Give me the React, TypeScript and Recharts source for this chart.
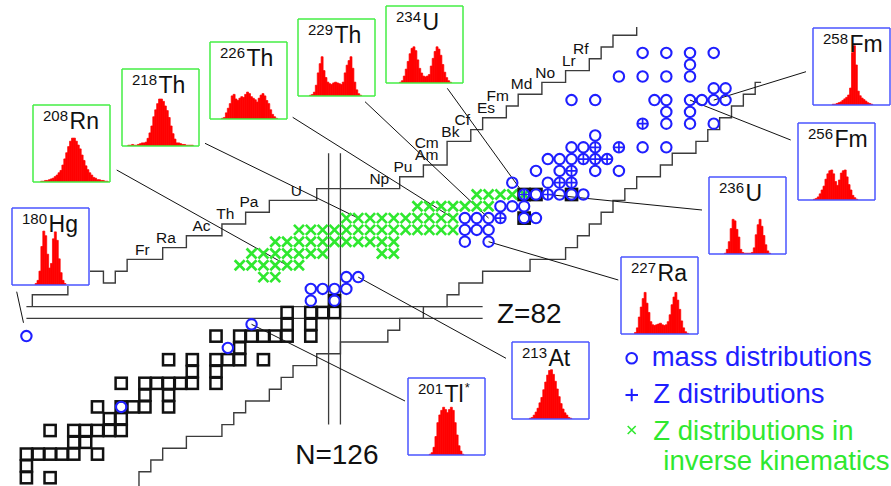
import React from "react";
import { ComposedChart, Scatter, XAxis, YAxis, BarChart, Bar, Legend } from "recharts";

const W = 891;
const H = 486;

// N along x, Z along y; one nuclide is about 11.85 x 11.8 px
const N_RANGE: [number, number] = [97.772, 172.96];
const Z_RANGE: [number, number] = [67.297, 108.483];

const pxToN = (x: number) => N_RANGE[0] + (x / W) * (N_RANGE[1] - N_RANGE[0]);
const pxToZ = (y: number) => Z_RANGE[1] - (y / H) * (Z_RANGE[1] - Z_RANGE[0]);

const BLUE = "#1f1fff";
const GREEN = "#2fe82f";
const RED = "#ff0000";
const INK = "#3c3c3c";
const FRAME_BLUE = "#4a55ff";
const FRAME_GREEN = "#44ee44";
const FONT = "'Liberation Sans', Arial, sans-serif";

// [Z, N list]
const stableRows: [number, number[]][] = [
  [68, [100, 102]],
  [69, [100]],
  [70, [100, 101, 102, 103, 104, 106]],
  [71, [104, 105]],
  [72, [102, 104, 105, 106, 107, 108]],
  [73, [107, 108]],
  [74, [106, 108, 109, 110, 112]],
  [75, [110, 112]],
  [76, [108, 110, 111, 112, 113, 114, 116]],
  [77, [114, 116]],
  [78, [112, 114, 116, 117, 118, 120]],
  [79, [118]],
  [80, [116, 118, 119, 120, 121, 122, 124]],
  [81, [122, 124]],
  [82, [122, 124, 125, 126]],
  [83, [126]],
  [90, [142]],
  [92, [142, 143, 146]],
];

const massRows: [number, number[]][] = [
  [74, [108]],
  [79, [117]],
  [80, [100]],
  [81, [119]],
  [83, [124, 126]],
  [84, [124, 125, 126, 127]],
  [85, [127, 128]],
  [88, [137, 139]],
  [89, [137, 138, 139]],
  [90, [137, 138, 139, 140, 142, 143]],
  [91, [140, 141, 142]],
  [92, [142, 143, 144, 145, 146, 147]],
  [93, [141, 144, 145, 146]],
  [94, [143, 145, 146, 148, 150]],
  [95, [144, 145, 146, 147, 148, 149]],
  [96, [146, 147, 148, 150, 152, 154]],
  [97, [148]],
  [98, [152, 154, 156, 158]],
  [99, [154, 156]],
  [100, [146, 148, 153, 154, 156, 157, 158, 159]],
  [101, [158, 159]],
  [102, [150, 152, 154, 156]],
  [103, [156]],
  [104, [152, 154, 156, 158]],
];

const zRows: [number, number[]][] = [
  [90, [140]],
  [92, [142, 144]],
  [93, [145, 146]],
  [94, [146]],
  [95, [147, 148, 149]],
  [96, [148, 150]],
  [98, [152]],
];

const inverseRows: [number, number[]][] = [
  [85, [120, 121]],
  [86, [118, 119, 120, 121, 122, 123]],
  [87, [119, 120, 121, 122, 123, 124, 125, 130, 131]],
  [88, [121, 122, 123, 124, 125, 126, 127, 128, 129, 130, 131]],
  [89, [123, 124, 125, 126, 127, 128, 129, 130, 131, 132, 133, 134, 135, 136]],
  [90, [127, 128, 129, 130, 131, 132, 133, 134, 135, 136]],
  [91, [133, 134, 135, 136, 137, 138, 139]],
  [92, [138, 139, 140, 141, 142]],
];

// limits of known nuclei, corner points [N, Z]
const protonSide: [number, number][] = [
  [100.5, 82.5], [100.5, 83.5], [103.5, 83.5], [103.5, 84.5], [104.5, 84.5], [104.5, 85.5],
  [106.5, 85.5], [106.5, 84.5], [107.5, 84.5], [107.5, 85.5], [108.5, 85.5], [108.5, 86.5],
  [111.5, 86.5], [111.5, 87.5], [113.5, 87.5], [113.5, 88.5], [116.5, 88.5], [116.5, 89.5],
  [118.5, 89.5], [118.5, 90.5], [120.5, 90.5], [120.5, 91.5], [124.5, 91.5], [124.5, 92.5],
  [131.5, 92.5], [131.5, 93.5], [133.5, 93.5], [133.5, 94.5], [135.5, 94.5], [135.5, 96.5],
  [137.5, 96.5], [137.5, 97.5], [138.5, 97.5], [138.5, 98.5], [140.5, 98.5], [140.5, 99.5],
  [141.5, 99.5], [141.5, 100.5], [143.5, 100.5], [143.5, 101.5], [145.5, 101.5], [145.5, 102.5],
  [147.5, 102.5], [147.5, 103.5], [148.5, 103.5], [148.5, 104.5], [149.5, 104.5], [149.5, 105.5],
  [151.5, 105.5], [151.5, 106.2],
];

const neutronSide: [number, number][] = [
  [109.5, 67.2], [109.5, 68.5], [110.5, 68.5], [110.5, 69.5], [111.5, 69.5], [111.5, 70.5],
  [113.5, 70.5], [113.5, 71.5], [116.5, 71.5], [116.5, 72.5], [117.5, 72.5], [117.5, 73.5],
  [118.5, 73.5], [118.5, 74.5], [120.5, 74.5], [120.5, 75.5], [121.5, 75.5], [121.5, 76.5],
  [122.5, 76.5], [122.5, 77.5], [124.5, 77.5], [124.5, 78.5], [126.5, 78.5], [126.5, 79.5],
  [130.5, 79.5], [130.5, 80.5], [131.5, 80.5], [131.5, 81.5], [133.5, 81.5], [133.5, 82.5],
  [135.5, 82.5], [135.5, 83.5], [136.5, 83.5], [136.5, 84.5], [138.5, 84.5], [138.5, 85.5],
  [142.5, 85.5], [142.5, 86.5], [145.5, 86.5], [145.5, 87.5], [146.5, 87.5], [146.5, 88.5],
  [147.5, 88.5], [147.5, 89.5], [148.5, 89.5], [148.5, 90.5], [149.5, 90.5], [149.5, 91.5],
  [150.5, 91.5], [150.5, 92.5], [151.5, 92.5], [151.5, 93.5], [153.5, 93.5], [153.5, 94.5],
  [154.5, 94.5], [154.5, 95.5], [156.5, 95.5], [156.5, 96.5], [157.5, 96.5], [157.5, 97.5],
  [158.5, 97.5], [158.5, 98.5], [159.5, 98.5], [159.5, 99.5], [160.5, 99.5], [160.5, 100.5],
  [161.5, 100.5], [161.5, 101.5], [162, 101.5],
];

const shellLines: [number, number][][] = [
  [[100, 82.5], [138.5, 82.5]],
  [[100, 81.5], [138.5, 81.5]],
  [[125.5, 72.5], [125.5, 95.5]],
  [[126.5, 72.5], [126.5, 95.5]],
];

const elementSymbols = ["Fr", "Ra", "Ac", "Th", "Pa", "U", "Np", "Pu", "Am", "Cm", "Bk", "Cf", "Es", "Fm", "Md", "No", "Lr", "Rf"];
const elementZ = [87, 88, 89, 90, 91, 92, 93, 94, 95, 96, 97, 98, 99, 100, 101, 102, 103, 104];

// fission-fragment distributions (relative yield per bin, 40 bins)
const hg180 = [0,0,0,0,0,0,0,0,0,0,0,0,2,6,18,50,70,64,40,22,28,60,69,58,34,16,6,2,0,0,0,0,0,0,0,0,0,0,0,0];
const rn208 = [0,0,0,0,1,1,2,2,3,4,5,7,9,12,15,22,30,38,46,53,57,57,53,48,43,35,28,21,16,12,9,6,5,3,3,2,2,1,1,0];
const th218 = [0,0,0,1,1,2,1,1,2,3,4,4,5,10,17,26,38,47,55,61,61,58,52,46,37,26,16,9,4,4,3,2,2,1,1,1,1,0,0,0];
const th226 = [0,0,0,0,0,0,1,2,8,14,20,30,32,26,24,27,29,28,32,35,33,29,27,25,22,27,31,33,30,24,20,12,6,3,1,0,0,0,0,0];
const th229 = [0,0,0,0,0,0,1,2,5,14,30,42,51,33,24,18,16,15,17,18,17,16,15,18,30,40,46,51,36,18,8,3,1,0,0,0,0,0,0,0];
const u234 = [0,0,0,0,0,0,0,1,3,9,18,28,38,45,47,42,30,19,13,9,8,9,11,22,32,41,47,44,36,24,14,7,3,1,0,0,0,0,0,0];
const fm258 = [0,0,0,0,0,0,0,0,0,0,1,1,2,3,4,6,8,10,13,22,68,77,52,18,12,9,7,5,3,2,1,0,0,0,0,0,0,0,0,0];
const fm256 = [0,0,0,0,0,0,0,0,1,2,4,8,13,18,27,34,38,39,34,24,19,26,35,38,39,30,20,13,6,3,1,0,0,0,0,0,0,0,0,0];
const u236 = [0,0,0,0,0,0,0,0,1,6,16,33,45,43,32,22,6,2,1,1,1,1,2,8,25,38,45,36,24,12,4,1,0,0,0,0,0,0,0,0];
const ra227 = [0,0,0,0,0,0,0,2,8,22,35,46,54,40,28,16,12,11,12,13,14,12,11,12,16,25,38,48,54,44,32,17,8,3,1,0,0,0,0,0];
const at213 = [0,0,0,0,0,0,0,0,0,1,2,5,9,14,21,28,38,48,57,63,64,58,49,39,29,20,13,8,5,2,1,0,0,0,0,0,0,0,0,0];
const tl201 = [0,0,0,0,0,0,0,0,0,0,0,1,3,10,24,42,52,58,62,59,55,59,62,58,42,26,12,5,1,0,0,0,0,0,0,0,0,0,0,0];

type InsetSpec = {
  mass: string; sym: string; star?: boolean; inverse: boolean;
  yields: number[]; n: number; z: number; reach?: number;
};

const insets: InsetSpec[] = [
  { mass: "180", sym: "Hg", inverse: false, yields: hg180, n: 100, z: 80, reach: 0.7 },
  { mass: "208", sym: "Rn", inverse: true, yields: rn208, n: 122, z: 86 },
  { mass: "218", sym: "Th", inverse: true, yields: th218, n: 128, z: 90 },
  { mass: "226", sym: "Th", inverse: true, yields: th226, n: 136, z: 90 },
  { mass: "229", sym: "Th", inverse: true, yields: th229, n: 139, z: 90 },
  { mass: "234", sym: "U", inverse: true, yields: u234, n: 142, z: 92 },
  { mass: "258", sym: "Fm", inverse: false, yields: fm258, n: 158, z: 100 },
  { mass: "256", sym: "Fm", inverse: false, yields: fm256, n: 156, z: 100 },
  { mass: "236", sym: "U", inverse: false, yields: u236, n: 144, z: 92 },
  { mass: "227", sym: "Ra", inverse: false, yields: ra227, n: 139, z: 88 },
  { mass: "213", sym: "At", inverse: false, yields: at213, n: 128, z: 85 },
  { mass: "201", sym: "Tl", star: true, inverse: false, yields: tl201, n: 119, z: 81 },
];

// inset boxes (top-left, px) and where their pointer starts
const insetLayout = [
  { x: 11.7, y: 207.7, ax: 16.7, ay: 291.7 },
  { x: 33.3, y: 105, ax: 116.7, ay: 170 },
  { x: 121.7, y: 69.3, ax: 205, ay: 143.3 },
  { x: 210, y: 42.3, ax: 292.7, ay: 117.3 },
  { x: 298.3, y: 19.3, ax: 365, ay: 101.7 },
  { x: 386, y: 6, ax: 447.3, ay: 88.3 },
  { x: 812.7, y: 28.3, ax: 806, ay: 71.7 },
  { x: 797.7, y: 122.7, ax: 790.7, ay: 140 },
  { x: 709.3, y: 176.7, ax: 702, ay: 210 },
  { x: 621, y: 257.3, ax: 618.3, ay: 280 },
  { x: 511.7, y: 342.3, ax: 506, ay: 358.3 },
  { x: 408.3, y: 377.7, ax: 405, ay: 401 },
];

const toPts = (rows: [number, number[]][]) => rows.flatMap(([z, ns]) => ns.map((n) => ({ n, z })));
const cornerPts = (c: [number, number][]) => c.map(([n, z]) => ({ n, z }));

// element name sits just left of the step where that Z row starts
const elementLabels = elementZ.map((z, i) => {
  let edge = 0;
  for (let k = 1; k < protonSide.length; k++) {
    const a = protonSide[k - 1];
    const b = protonSide[k];
    if (a[0] === b[0] && Math.min(a[1], b[1]) < z && Math.max(a[1], b[1]) > z) edge = a[0];
  }
  return { n: edge - 1.72, z: z + 0.38, sym: elementSymbols[i] };
});

const leaders = insets.map((s, i) => {
  const l = insetLayout[i];
  const n0 = pxToN(l.ax);
  const z0 = pxToZ(l.ay);
  const r = s.reach ?? 1;
  return [{ n: n0, z: z0 }, { n: n0 + (s.n - n0) * r, z: z0 + (s.z - z0) * r }];
});

const noDot = () => <g />;

const SquareMark = (p: any) => (
  <rect x={p.cx - 5.6} y={p.cy - 5.6} width={11.2} height={11.2} fill="none" stroke="#111" strokeWidth={2.5} />
);
const RingMark = (p: any) => <circle cx={p.cx} cy={p.cy} r={5.2} fill="none" stroke={BLUE} strokeWidth={2.1} />;
const PlusMark = (p: any) => (
  <path d={`M${p.cx - 4.8},${p.cy}H${p.cx + 4.8}M${p.cx},${p.cy - 4.8}V${p.cy + 4.8}`} stroke={BLUE} strokeWidth={1.7} />
);
const CrossMark = (p: any) => (
  <path
    d={`M${p.cx - 5},${p.cy - 5}L${p.cx + 5},${p.cy + 5}M${p.cx + 5},${p.cy - 5}L${p.cx - 5},${p.cy + 5}`}
    stroke={GREEN}
    strokeWidth={2.7}
  />
);
const ElementText = (p: any) => (
  <text x={p.cx} y={p.cy + 5.6} textAnchor="middle" fontSize={15.5} fontFamily={FONT} fill="#111">
    {p.payload.sym}
  </text>
);
const BigText = (p: any) => (
  <text x={p.cx} y={p.cy + 10} textAnchor={p.payload.anchor} fontSize={28} fontFamily={FONT} fill="#111">
    {p.payload.t}
  </text>
);

const magicLabels = [
  { n: pxToN(497), z: 82, t: "Z=82", anchor: "start" },
  { n: 126.2, z: 70, t: "N=126", anchor: "middle" },
];

function LegendBox() {
  return (
    <svg width={270} height={140} style={{ display: "block" }}>
      <circle cx={11.7} cy={18.3} r={5.3} fill="none" stroke={BLUE} strokeWidth={2} />
      <text x={31.7} y={26} fill={BLUE} fontSize={27.5} fontFamily={FONT}>mass distributions</text>
      <path d="M5.5,55H18M11.7,48.8V61.2" stroke={BLUE} strokeWidth={2} />
      <text x={33.3} y={63} fill={BLUE} fontSize={27.5} fontFamily={FONT}>Z distributions</text>
      <path d="M7.7,86L15.7,94M15.7,86L7.7,94" stroke={GREEN} strokeWidth={1.6} />
      <text x={33.3} y={100} fill={GREEN} fontSize={27.5} fontFamily={FONT}>Z distributions in</text>
      <text x={43.3} y={130} fill={GREEN} fontSize={27.5} fontFamily={FONT}>inverse kinematics</text>
    </svg>
  );
}

const GREEN_TICKS = [13, 28, 43, 58, 73, 88];
const BLUE_TICKS = [18, 37, 56, 75, 94];

function Inset({ spec, box }: { spec: InsetSpec; box: { x: number; y: number } }) {
  const data = spec.yields.map((v, i) => ({ i, v }));
  const color = spec.inverse ? FRAME_GREEN : FRAME_BLUE;
  const ticks = spec.inverse ? GREEN_TICKS : BLUE_TICKS;
  const frame = {
    type: "number" as const,
    domain: [0, 100],
    ticks,
    interval: 0 as const,
    mirror: true,
    tick: false,
    tickSize: 3,
    allowDataOverflow: true,
    axisLine: { stroke: color, strokeWidth: 1.5 },
    tickLine: { stroke: color, strokeWidth: 1.2 },
  };
  return (
    <div style={{ position: "absolute", left: box.x - 1, top: box.y - 1, width: 79, height: 79, background: "#fff" }}>
      <BarChart width={79} height={79} data={data} margin={{ top: 1, right: 1, bottom: 1, left: 1 }} barCategoryGap={0} barGap={0}>
        <XAxis xAxisId="bins" dataKey="i" hide />
        <YAxis yAxisId="l" orientation="left" {...frame} />
        <YAxis yAxisId="r" orientation="right" {...frame} />
        <Bar xAxisId="bins" yAxisId="l" dataKey="v" fill={RED} stroke={RED} strokeWidth={0.7} isAnimationActive={false} />
        <XAxis xAxisId="b" orientation="bottom" {...frame} />
        <XAxis xAxisId="t" orientation="top" {...frame} />
      </BarChart>
      <svg width={79} height={79} style={{ position: "absolute", left: 0, top: 0 }}>
        <text x={11} y={16.5} fontSize={15} fontFamily={FONT} fill="#111">
          {spec.mass}
          <tspan dx={1.5} dy={8.5} fontSize={23}>{spec.sym}</tspan>
          {spec.star ? <tspan dx={1} dy={-10} fontSize={13}>*</tspan> : null}
        </text>
      </svg>
    </div>
  );
}

export default function App() {
  return (
    <div style={{ position: "absolute", left: 0, top: 0, width: W, height: H, background: "#fff" }}>
      <ComposedChart width={W} height={H} margin={{ top: 0, right: 0, bottom: 0, left: 0 }}>
        <XAxis type="number" dataKey="n" domain={N_RANGE} hide allowDataOverflow />
        <YAxis type="number" dataKey="z" domain={Z_RANGE} hide allowDataOverflow />

        {shellLines.map((seg, i) => (
          <Scatter key={`shell${i}`} data={cornerPts(seg)} line={{ stroke: INK, strokeWidth: 1.3 }} lineType="joint" shape={noDot} isAnimationActive={false} />
        ))}
        <Scatter data={cornerPts(protonSide)} line={{ stroke: INK, strokeWidth: 1.4 }} lineType="joint" shape={noDot} isAnimationActive={false} />
        <Scatter data={cornerPts(neutronSide)} line={{ stroke: INK, strokeWidth: 1.4 }} lineType="joint" shape={noDot} isAnimationActive={false} />
        {leaders.map((pts, i) => (
          <Scatter key={`lead${i}`} data={pts} line={{ stroke: "#111", strokeWidth: 1 }} lineType="joint" shape={noDot} isAnimationActive={false} />
        ))}

        <Scatter data={toPts(inverseRows)} shape={CrossMark} isAnimationActive={false} />
        <Scatter data={toPts(stableRows)} shape={SquareMark} isAnimationActive={false} />
        <Scatter data={toPts(massRows)} shape={RingMark} isAnimationActive={false} />
        <Scatter data={toPts(zRows)} shape={PlusMark} isAnimationActive={false} />

        <Scatter data={elementLabels} shape={ElementText} isAnimationActive={false} />
        <Scatter data={magicLabels} shape={BigText} isAnimationActive={false} />

        <Legend
          layout="vertical"
          align="center"
          verticalAlign="middle"
          wrapperStyle={{ position: "absolute", left: 620, top: 340, width: 270, height: 140 }}
          content={() => <LegendBox />}
        />
      </ComposedChart>
      {insets.map((s, i) => (
        <Inset key={s.mass + s.sym} spec={s} box={insetLayout[i]} />
      ))}
    </div>
  );
}
